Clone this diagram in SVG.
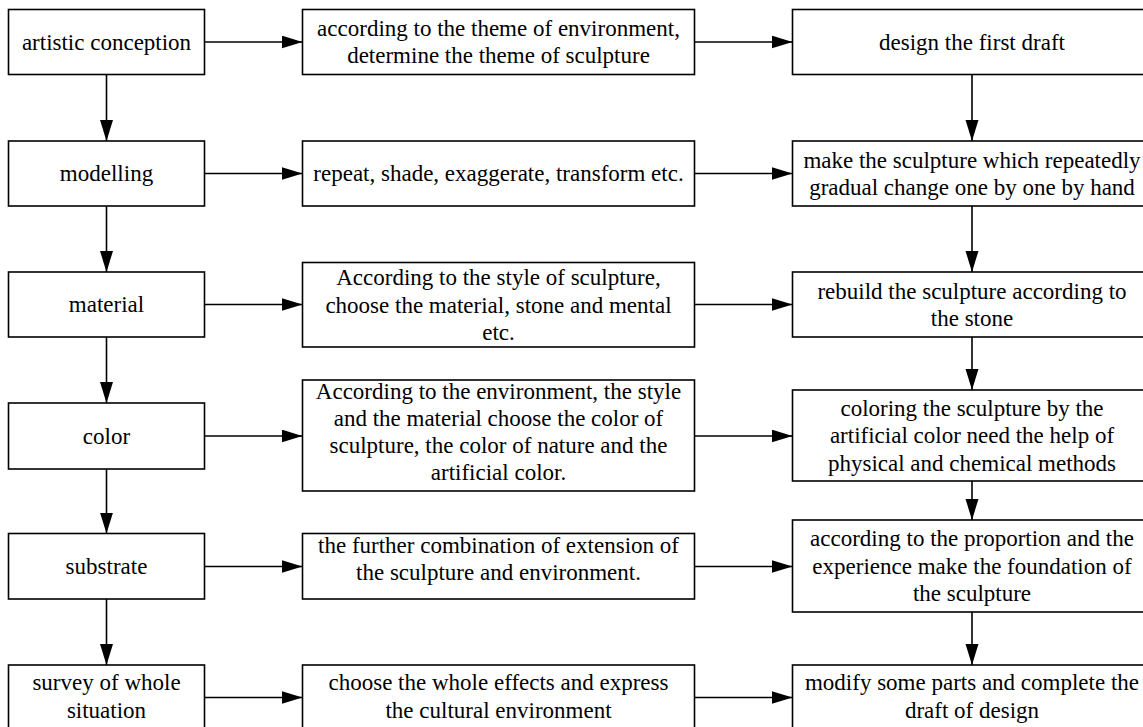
<svg xmlns="http://www.w3.org/2000/svg" width="1143" height="727" viewBox="0 0 1143 727">
<style>
rect{fill:#fff;stroke:#000;stroke-width:1.6}
text{font-family:"Liberation Serif","Times New Roman",Times,"Nimbus Roman","Noto Serif","DejaVu Serif",serif;font-size:23px;fill:#000;text-anchor:middle}
.c line{stroke:#000;stroke-width:1.6}
</style>
<defs>
<marker id="ah" markerUnits="userSpaceOnUse" markerWidth="22" markerHeight="14" refX="21" refY="6.5" orient="auto">
<path d="M0,0 L21,6.5 L0,13 Z" fill="#000"/>
</marker>
</defs>
<rect width="1143" height="727" style="fill:#fff;stroke:none"/>
<g class="c" id="connectors">
<line x1="204.5" y1="42" x2="302.5" y2="42" marker-end="url(#ah)"/>
<line x1="694.5" y1="42" x2="792.5" y2="42" marker-end="url(#ah)"/>
<line x1="204.5" y1="173.5" x2="302.5" y2="173.5" marker-end="url(#ah)"/>
<line x1="694.5" y1="173.5" x2="792.5" y2="173.5" marker-end="url(#ah)"/>
<line x1="204.5" y1="304.5" x2="302.5" y2="304.5" marker-end="url(#ah)"/>
<line x1="694.5" y1="304.5" x2="792.5" y2="304.5" marker-end="url(#ah)"/>
<line x1="204.5" y1="436" x2="302.5" y2="436" marker-end="url(#ah)"/>
<line x1="694.5" y1="436" x2="792.5" y2="436" marker-end="url(#ah)"/>
<line x1="204.5" y1="566.5" x2="302.5" y2="566.5" marker-end="url(#ah)"/>
<line x1="694.5" y1="566.5" x2="792.5" y2="566.5" marker-end="url(#ah)"/>
<line x1="204.5" y1="697.5" x2="302.5" y2="697.5" marker-end="url(#ah)"/>
<line x1="694.5" y1="697.5" x2="792.5" y2="697.5" marker-end="url(#ah)"/>
<line x1="106.5" y1="74.5" x2="106.5" y2="141" marker-end="url(#ah)"/>
<line x1="106.5" y1="206" x2="106.5" y2="272" marker-end="url(#ah)"/>
<line x1="106.5" y1="337" x2="106.5" y2="403" marker-end="url(#ah)"/>
<line x1="106.5" y1="469" x2="106.5" y2="533.5" marker-end="url(#ah)"/>
<line x1="106.5" y1="599" x2="106.5" y2="665" marker-end="url(#ah)"/>
<line x1="972" y1="74.5" x2="972" y2="141" marker-end="url(#ah)"/>
<line x1="972" y1="206" x2="972" y2="272" marker-end="url(#ah)"/>
<line x1="972" y1="337" x2="972" y2="390" marker-end="url(#ah)"/>
<line x1="972" y1="481" x2="972" y2="520" marker-end="url(#ah)"/>
<line x1="972" y1="612" x2="972" y2="665" marker-end="url(#ah)"/>
</g>
<g id="n-artistic"><rect x="8.5" y="9.5" width="196" height="65"/><text x="106.5" y="49.5">artistic conception</text></g>
<g id="n-theme"><rect x="302.5" y="9.5" width="392" height="65"/><text x="498.5" y="35.5">according to the theme of environment,</text><text x="498.5" y="63">determine the theme of sculpture</text></g>
<g id="n-draft"><rect x="792.5" y="9.5" width="359" height="65"/><text x="972" y="49.5">design the first draft</text></g>
<g id="n-modelling"><rect x="8.5" y="141" width="196" height="65"/><text x="106.5" y="181">modelling</text></g>
<g id="n-repeat"><rect x="302.5" y="141" width="392" height="65"/><text x="498.5" y="181">repeat, shade, exaggerate, transform etc.</text></g>
<g id="n-make"><rect x="792.5" y="141" width="359" height="65"/><text x="972" y="167.5">make the sculpture which repeatedly</text><text x="972" y="195">gradual change one by one by hand</text></g>
<g id="n-material"><rect x="8.5" y="272" width="196" height="65"/><text x="106.5" y="312">material</text></g>
<g id="n-style"><rect x="302.5" y="262.5" width="392" height="84.5"/><text x="498.5" y="285">According to the style of sculpture,</text><text x="498.5" y="312.5">choose the material, stone and mental</text><text x="498.5" y="340">etc.</text></g>
<g id="n-rebuild"><rect x="792.5" y="272" width="359" height="65"/><text x="972" y="298.5">rebuild the sculpture according to</text><text x="972" y="326">the stone</text></g>
<g id="n-color"><rect x="8.5" y="403" width="196" height="66"/><text x="106.5" y="443.5">color</text></g>
<g id="n-env"><rect x="302.5" y="380" width="392" height="111"/><text x="498.5" y="398.5">According to the environment, the style</text><text x="498.5" y="425.5">and the material choose the color of</text><text x="498.5" y="452.5">sculpture, the color of nature and the</text><text x="498.5" y="479.5">artificial color.</text></g>
<g id="n-coloring"><rect x="792.5" y="390" width="359" height="91"/><text x="972" y="415.5">coloring the sculpture by the</text><text x="972" y="443">artificial color need the help of</text><text x="972" y="470.5">physical and chemical methods</text></g>
<g id="n-substrate"><rect x="8.5" y="533.5" width="196" height="65.5"/><text x="106.5" y="573.5">substrate</text></g>
<g id="n-further"><rect x="302.5" y="533.5" width="392" height="65.5"/><text x="498.5" y="552.5">the further combination of extension of</text><text x="498.5" y="580">the sculpture and environment.</text></g>
<g id="n-proportion"><rect x="792.5" y="520" width="359" height="92"/><text x="972" y="546">according to the proportion and the</text><text x="972" y="573.5">experience make the foundation of</text><text x="972" y="601">the sculpture</text></g>
<g id="n-survey"><rect x="8.5" y="665" width="196" height="70"/><text x="106.5" y="690">survey of whole</text><text x="106.5" y="718">situation</text></g>
<g id="n-choose"><rect x="302.5" y="665" width="392" height="70"/><text x="498.5" y="690">choose the whole effects and express</text><text x="498.5" y="718">the cultural environment</text></g>
<g id="n-modify"><rect x="792.5" y="665" width="359" height="70"/><text x="972" y="690">modify some parts and complete the</text><text x="972" y="718">draft of design</text></g>
</svg>
